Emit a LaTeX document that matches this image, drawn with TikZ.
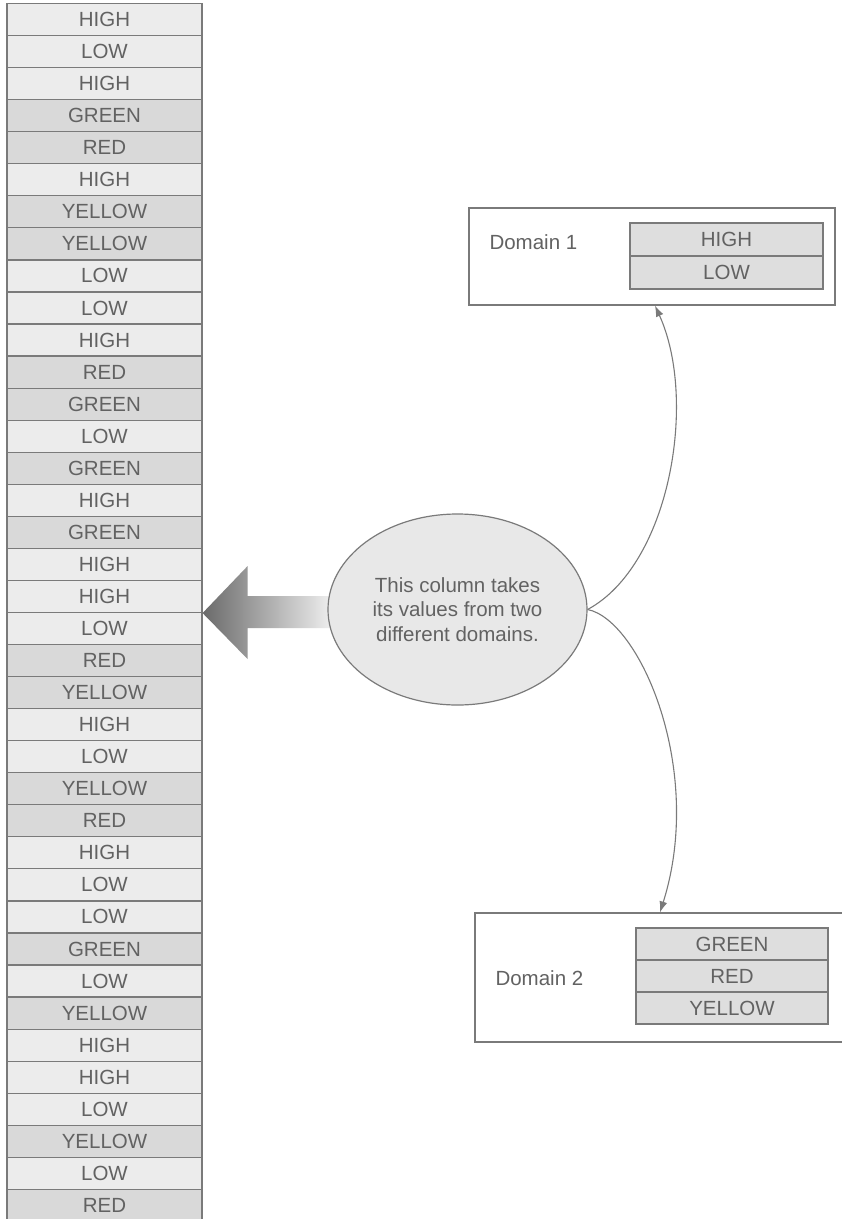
\documentclass[tikz,border=0pt]{standalone}
\usepackage{fontspec}
\setmainfont{Liberation Sans}
\usetikzlibrary{shapes.geometric,arrows.meta,calc}

\definecolor{edge}{HTML}{7A7A7A}
\definecolor{ink}{HTML}{626262}
\definecolor{lightrow}{HTML}{ECECEC}
\definecolor{darkrow}{HTML}{D9D9D9}
\definecolor{domcell}{HTML}{DEDEDE}
\definecolor{bubble}{HTML}{E8E8E8}
\definecolor{arrowdark}{HTML}{6A6A6A}

\tikzset{
  txt/.style={font=\fontsize{20.5}{24.5}\selectfont, text=ink},
  cell/.style={txt, draw=edge, line width=1.2pt, rectangle, inner sep=0pt,
    minimum width=195pt, minimum height=32.05pt},
  lo/.style={cell, fill=lightrow},
  hi/.style={cell, fill=darkrow},
  dcell/.style={txt, draw=edge, line width=1.2pt, rectangle, inner sep=0pt, fill=domcell},
  dbox/.style={draw=edge, line width=1.2pt, rectangle, fill=white, inner sep=0pt},
  link/.style={draw=edge, line width=1.1pt, -{Latex[length=11pt,width=8pt]}},
}

\begin{document}
\begin{tikzpicture}[x=1pt, y=-1pt]
\clip (0,0) rectangle (842,1219);
\fill[white] (0,0) rectangle (842,1219);

% the data column: one cell per value
\foreach \s/\t [count=\i] in {
  lo/HIGH, lo/LOW, lo/HIGH, hi/GREEN, hi/RED, lo/HIGH, hi/YELLOW, hi/YELLOW,
  lo/LOW, lo/LOW, lo/HIGH, hi/RED, hi/GREEN, lo/LOW, hi/GREEN, lo/HIGH,
  hi/GREEN, lo/HIGH, lo/HIGH, lo/LOW, hi/RED, hi/YELLOW, lo/HIGH, lo/LOW,
  hi/YELLOW, hi/RED, lo/HIGH, lo/LOW, lo/LOW, hi/GREEN, lo/LOW, hi/YELLOW,
  lo/HIGH, lo/HIGH, lo/LOW, hi/YELLOW, lo/LOW, hi/RED} {
  \pgfmathsetmacro{\yc}{3.5 + 32.05*(\i-1) + 16.025}
  \node[\s] (c\i) at (104.5, \yc) {\t};
}

% shaded block arrow pointing at the column, dark at the tip
\shade[left color=arrowdark, right color=white]
  (c19.south east) -- ++(45,-47) -- ++(0,30) -- ++(100,0) -- ++(0,32)
  -- ++(-100,0) -- ++(0,31) -- cycle;

% explanatory bubble
\node[ellipse, draw=edge, line width=1.2pt, fill=bubble, inner sep=0pt,
      minimum width=259pt, minimum height=191pt, txt, align=center]
  (note) at (457.5, 609.5)
  {This column takes\\its values from two\\different domains.};

% domain 1
\node[dbox, minimum width=366pt, minimum height=97pt] (d1) at (652, 256.5) {};
\node[txt, anchor=west] (d1label) at (486, 242) {Domain 1};
\node[dcell, minimum width=193pt, minimum height=33pt] (d1a) at (726.5, 239.5) {HIGH};
\node[dcell, minimum width=193pt, minimum height=33pt] (d1b) at (726.5, 272.5) {LOW};

% domain 2
\node[dbox, minimum width=371pt, minimum height=129pt] (d2) at (660.5, 977.5) {};
\node[txt, anchor=west] (d2label) at (492, 978) {Domain 2};
\node[dcell, minimum width=192pt, minimum height=32pt] (d2a) at (732, 944) {GREEN};
\node[dcell, minimum width=192pt, minimum height=32pt] (d2b) at (732, 976) {RED};
\node[dcell, minimum width=192pt, minimum height=32pt] (d2c) at (732, 1008) {YELLOW};

% links from the bubble to the two domains
\draw[link] (note.east) .. controls (670,565) and (698,400) .. (d1.south -| 655,0);
\draw[link] (note.east) .. controls (640,620) and (705,770) .. (d2.north -| 660,0);
\end{tikzpicture}
\end{document}
